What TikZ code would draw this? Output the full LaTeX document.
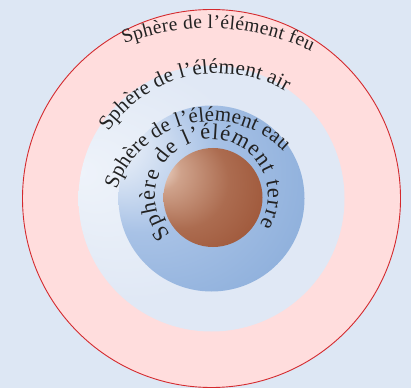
\documentclass[tikz,border=0pt]{standalone}
\usepackage{fontspec}
\setmainfont{Liberation Serif}
\usetikzlibrary{decorations.text}

\definecolor{bgblue}{HTML}{DDE7F4}
\definecolor{firered}{HTML}{D42A2E}
\definecolor{firein}{HTML}{FFDDDD}
\definecolor{fireout}{HTML}{FFC6C6}
\definecolor{airin}{HTML}{EEF3FA}
\definecolor{airout}{HTML}{E0E8F5}
\definecolor{eauin}{HTML}{F3F6FB}
\definecolor{eaumid}{HTML}{A8C2E6}
\definecolor{eauout}{HTML}{7BA2D4}
\definecolor{terrein}{HTML}{F0DCD0}
\definecolor{terrelt}{HTML}{CFA28B}
\definecolor{terremid}{HTML}{AC6C50}
\definecolor{terredk}{HTML}{9A5032}
\definecolor{terreout}{HTML}{88381E}
\definecolor{textgray}{HTML}{222222}

\pgfdeclareradialshading{feushade}{\pgfpoint{0bp}{0bp}}{color(0bp)=(firein); color(35bp)=(firein); color(50bp)=(fireout)}
\pgfdeclareradialshading{airshade}{\pgfpoint{-25bp}{5bp}}{color(0bp)=(airin); color(22bp)=(airout); color(50bp)=(airout)}
\pgfdeclareradialshading{eaushade}{\pgfpoint{-32bp}{18bp}}{color(0bp)=(eauin); color(3bp)=(eauin); color(20bp)=(eaumid); color(50bp)=(eauout)}
\pgfdeclareradialshading{terreshade}{\pgfpoint{-31bp}{16bp}}{color(0bp)=(terrein); color(2bp)=(terrein); color(9bp)=(terrelt); color(24bp)=(terremid); color(42bp)=(terredk); color(50bp)=(terreout)}

\tikzset{
  ringtext/.style 2 args={decorate, decoration={text along path, text align=fit to path,
      text color=textgray, text={|\fontsize{#2}{#2}\selectfont|#1}}}
}

\begin{document}
\begin{tikzpicture}[x=1pt,y=1pt]
    \useasboundingbox (0,0) rectangle (411,388);
    \fill[bgblue] (0,0) rectangle (411,388);
    \coordinate (c) at (211.5,189.5);
    % les quatre spheres
    \shade[shading=feushade] (c) circle (189pt);
    \draw[firered, line width=0.9pt] (c) circle (189pt);
    \shade[shading=airshade] (c) circle (133pt);
    \shade[shading=eaushade] (c) circle (93pt);
    \shade[shading=terreshade] ([shift={(1.5,1)}]c) circle (49.5pt);
    % textes (arcs de base)
    \coordinate (cfeu) at (209.2,123.1);
    \coordinate (cair) at (218.5,181.7);
    \coordinate (ceau) at (211.9,166.4);
    \coordinate (cterre) at (211.4,192.3);
    \path[ringtext={Sphère de l’élément feu}{19.5}] (cfeu) ++(111:236.7pt) arc[start angle=111, end angle=64.5, radius=236.7pt];
    \path[ringtext={Sphère de l’élément air}{21}] (cair) ++(145.9:133pt) arc[start angle=145.9, end angle=59.5, radius=133pt];
    \path[ringtext={Sphère de l’élément eau}{21}] (ceau) ++(161.6:100.3pt) arc[start angle=161.6, end angle=44.5, radius=100.3pt];
    \path[ringtext={Sphère de l’élément terre}{22.5}] (cterre) ++(223.5:56.5pt) arc[start angle=223.5, end angle=-31.5, radius=56.5pt];
\end{tikzpicture}
\end{document}
